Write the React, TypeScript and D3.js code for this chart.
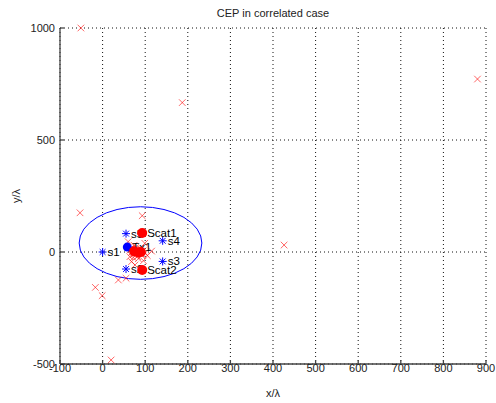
import React from "react";
import * as d3 from "d3";

// red x markers: scattered estimates
const estX = [-51, 880, 187, -53, 426, 20, -17, -1, 37, 55, 93, 99, 115, 105, 96, 64, 68, 60, 76,
  70, 75, 80, 85, 90, 72, 82, 88, 95, 65, 78, 92, 100, 84, 74, 68, 80, 86, 77, 90, 72];
const estY = [1000, 772, 667, 175, 31, -482, -158, -195, -125, -117, 162, 39, 4, -16, -39, -21, -43, 46, -58,
  5, -5, 10, 0, -8, -12, -20, 15, 5, 10, 20, -15, -5, -30, 30, -2, -8, 8, 12, 2, -25];

// sensors (blue asterisks)
const sensorNames = ["s1", "s2", "s3", "s4", "s5"];
const sensorX = [0, 55, 141, 141, 55];
const sensorY = [0, -76, -42, 50, 82];

// scatterers (red dots)
const scatNames = ["Scat1", "Scat2", "", "", ""];
const scatX = [93, 93, 74, 84, 90];
const scatY = [85, -80, 3, -2, 0];

// transmitter
const txNames = ["Tx1"];
const txX = [58];
const txY = [22];

// CEP ellipse
const cepCenter = [89, 40];
const cepRx = 144;
const cepRy = 162;

const xTicks = [-100, 0, 100, 200, 300, 400, 500, 600, 700, 800, 900];
const yTicks = [-500, 0, 500, 1000];

const W = 496;
const H = 403;
const font = "'Liberation Sans', Arial, sans-serif";

export default function App() {
  const x = d3.scaleLinear().domain([-100, 900]).range([60, 486]);
  const y = d3.scaleLinear().domain([-500, 1000]).range([364, 28]);
  const left = x.range()[0];
  const right = x.range()[1];
  const top = y.range()[1];
  const bottom = y.range()[0];

  const star = (cx: number, cy: number, k: number) => {
    const a = 4;
    const d = 2.9;
    return (
      <g key={k} stroke="#0000ff" strokeWidth={1}>
        <line x1={cx - a} y1={cy} x2={cx + a} y2={cy} />
        <line x1={cx} y1={cy - a} x2={cx} y2={cy + a} />
        <line x1={cx - d} y1={cy - d} x2={cx + d} y2={cy + d} />
        <line x1={cx - d} y1={cy + d} x2={cx + d} y2={cy - d} />
      </g>
    );
  };

  const cross = (cx: number, cy: number, k: number) => {
    const a = 3.3;
    return (
      <g key={k} stroke="#ff0000" strokeOpacity={0.6} strokeWidth={1}>
        <line x1={cx - a} y1={cy - a} x2={cx + a} y2={cy + a} />
        <line x1={cx - a} y1={cy + a} x2={cx + a} y2={cy - a} />
      </g>
    );
  };

  return (
    <svg width={W} height={H} style={{ position: "absolute", left: 0, top: 0, background: "#fff" }}
      fontFamily={font}>
      <rect width={W} height={H} fill="#fff" />
      {/* grid */}
      <g stroke="#111" strokeWidth={1} strokeDasharray="1,3">
        {xTicks.map((t) => (
          <line key={"gx" + t} x1={x(t)} x2={x(t)} y1={top} y2={bottom} />
        ))}
        {yTicks.map((t) => (
          <line key={"gy" + t} x1={left} x2={right} y1={y(t)} y2={y(t)} />
        ))}
      </g>
      {/* axes */}
      <g stroke="#444" strokeWidth={1.3}>
        <line x1={left} x2={left} y1={top} y2={bottom} />
        <line x1={left} x2={right} y1={bottom} y2={bottom} />
        {xTicks.map((t) => (
          <line key={"tx" + t} x1={x(t)} x2={x(t)} y1={bottom} y2={bottom - 4} />
        ))}
        {yTicks.map((t) => (
          <line key={"ty" + t} x1={left} x2={left + 4} y1={y(t)} y2={y(t)} />
        ))}
      </g>
      <g fontSize={11} fill="#222">
        {xTicks.map((t) => (
          <text key={"lx" + t} x={x(t)} y={bottom + 8} textAnchor="middle">{t}</text>
        ))}
        {yTicks.map((t) => (
          <text key={"ly" + t} x={left - 5} y={y(t) + 4} textAnchor="end">{t}</text>
        ))}
      </g>
      <text x={(left + right) / 2} y={17} textAnchor="middle" fontSize={11} fill="#222">CEP in correlated case</text>
      <text x={(left + right) / 2} y={397} textAnchor="middle" fontSize={11} fill="#222">x/λ</text>
      <text transform={`translate(20,${(top + bottom) / 2}) rotate(-90)`} textAnchor="middle" fontSize={11} fill="#222">y/λ</text>

      {/* CEP ellipse */}
      <ellipse cx={x(cepCenter[0])} cy={y(cepCenter[1])}
        rx={x(cepCenter[0] + cepRx) - x(cepCenter[0])}
        ry={y(cepCenter[1]) - y(cepCenter[1] + cepRy)}
        fill="none" stroke="#0000ff" strokeWidth={1} />

      {/* estimates */}
      {estX.map((v, i) => cross(x(v), y(estY[i]), i))}

      {/* sensors */}
      {sensorX.map((v, i) => star(x(v), y(sensorY[i]), i))}
      {sensorNames.map((n, i) => (
        <text key={n} x={x(sensorX[i]) + 5} y={y(sensorY[i]) + 4} fontSize={11.5} fill="#000">{n}</text>
      ))}

      {/* transmitter */}
      {txX.map((v, i) => (
        <g key={"tx" + i}>
          <circle cx={x(v)} cy={y(txY[i])} r={4.5} fill="#0000ff" />
          <text x={x(v) + 5} y={y(txY[i]) + 4} fontSize={11.5} fill="#000">{txNames[i]}</text>
        </g>
      ))}

      {/* scatterers */}
      {scatX.map((v, i) => (
        <g key={"sc" + i}>
          <circle cx={x(v)} cy={y(scatY[i])} r={5} fill="#ff0000" />
          {scatNames[i] && (
            <text x={x(v) + 5} y={y(scatY[i]) + 4} fontSize={11.5} fill="#000">{scatNames[i]}</text>
          )}
        </g>
      ))}
    </svg>
  );
}
